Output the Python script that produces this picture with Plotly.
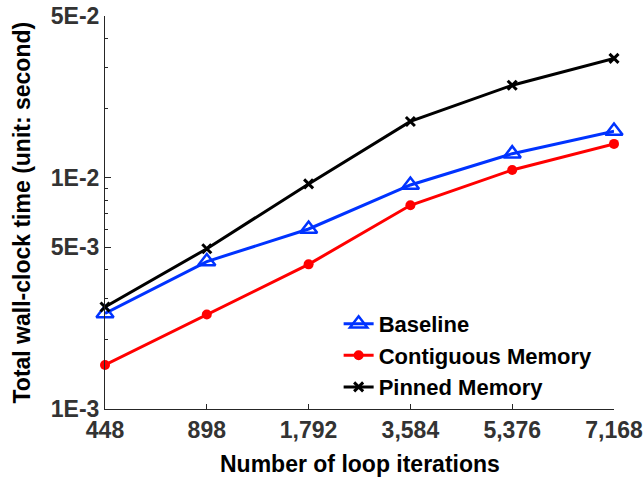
import plotly.graph_objects as go

iterations = ["448", "898", "1,792", "3,584", "5,376", "7,168"]
baseline = [2.59e-3, 4.34e-3, 6.0e-3, 9.3e-3, 1.27e-2, 1.59e-2]
contiguous = [1.55e-3, 2.56e-3, 4.22e-3, 7.6e-3, 1.08e-2, 1.40e-2]
pinned = [2.76e-3, 4.93e-3, 9.4e-3, 1.75e-2, 2.51e-2, 3.28e-2]

ytick_vals = [1e-3, 5e-3, 1e-2, 5e-2]
ytick_text = ["1E-3", "5E-3", "1E-2", "5E-2"]
yminor_vals = [k * 1e-3 for k in (2, 3, 4, 6, 7, 8, 9)] + [k * 1e-2 for k in (2, 3, 4)]

FONT = "Liberation Sans, Arial, sans-serif"
AX = "#262626"
FS = 23

fig = go.Figure()
fig.add_trace(go.Scatter(
    x=iterations, y=baseline, name="Baseline", mode="lines+markers",
    line=dict(color="#0033ff", width=3),
    marker=dict(symbol="triangle-up-open", size=15, color="#0033ff", line=dict(width=2.5, color="#0033ff")),
    cliponaxis=False))
fig.add_trace(go.Scatter(
    x=iterations, y=contiguous, name="Contiguous Memory", mode="lines+markers",
    line=dict(color="#ff0000", width=3),
    marker=dict(symbol="circle", size=10, color="#ff0000"),
    cliponaxis=False))
fig.add_trace(go.Scatter(
    x=iterations, y=pinned, name="Pinned Memory", mode="lines+markers",
    line=dict(color="#000000", width=3),
    marker=dict(symbol="x-thin", size=9, color="#000000", line=dict(width=3, color="#000000")),
    cliponaxis=False))

fig.update_layout(
    width=644, height=478,
    margin=dict(l=105, r=30, t=16, b=69, autoexpand=False),
    plot_bgcolor="white", paper_bgcolor="white",
    font=dict(family=FONT, size=FS, color=AX, weight="bold"),
    showlegend=True,
    legend=dict(x=0.459, y=0.27, xanchor="left", yanchor="top",
                bgcolor="rgba(0,0,0,0)", font=dict(size=22, color="black", weight="bold"),
                tracegroupgap=0, itemwidth=30),
    xaxis=dict(
        type="category", range=[0, 5], showline=True, linecolor=AX, linewidth=1,
        ticks="inside", ticklen=5, tickcolor=AX, showgrid=False, zeroline=False,
        tickfont=dict(size=FS, color="#333333"), automargin=False,
    ),
    yaxis=dict(
        type="log", range=[-3, -1.30103], showline=True, linecolor=AX, linewidth=1,
        tickmode="array", tickvals=ytick_vals, ticktext=ytick_text,
        ticks="inside", ticklen=6, tickcolor=AX, showgrid=False, zeroline=False,
        tickfont=dict(size=FS, color="#333333"), automargin=False,
        minor=dict(tickmode="array", tickvals=yminor_vals, ticks="inside", ticklen=3,
                   tickcolor=AX, showgrid=False),
    ),
    annotations=[
        dict(text="Number of loop iterations", xref="paper", yref="paper",
             x=0.5, y=-(464 - 409) / 393, xanchor="center", yanchor="middle",
             showarrow=False, font=dict(size=FS, color="black", weight="bold")),
        dict(text="Total wall-clock time (unit: second)", xref="paper", yref="paper",
             x=-(105 - 21) / 509, y=0.5, xanchor="center", yanchor="middle",
             textangle=-90, showarrow=False, font=dict(size=FS, color="black", weight="bold")),
    ],
)

fig.write_html("out.html")
